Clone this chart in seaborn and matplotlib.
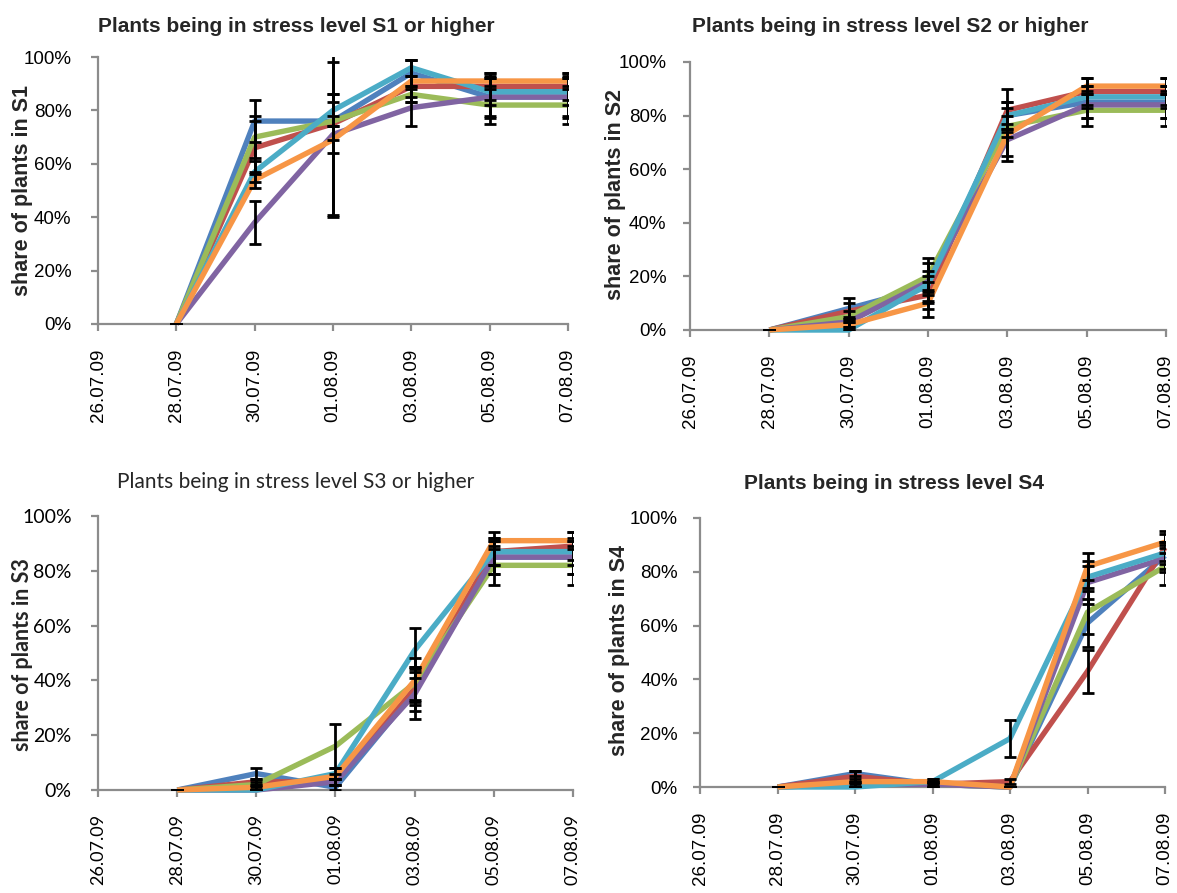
import matplotlib
matplotlib.use("Agg")
import numpy as np
import pandas as pd
import matplotlib.pyplot as plt
from matplotlib.ticker import PercentFormatter
import seaborn as sns

# ---------------- data ----------------
dates = ["28.07.09", "30.07.09", "01.08.09", "03.08.09", "05.08.09", "07.08.09"]
tick_labels = ["26.07.09", "28.07.09", "30.07.09", "01.08.09",
               "03.08.09", "05.08.09", "07.08.09"]
series_names = ["Series 1", "Series 2", "Series 3", "Series 4", "Series 5", "Series 6"]
colors = ["#4F81BD", "#C0504D", "#9BBB59", "#8064A2", "#4BACC6", "#F79646"]

titles = ["Plants being in stress level S1 or higher",
          "Plants being in stress level S2 or higher",
          "Plants being in stress level S3 or higher",
          "Plants being in stress level S4"]
ylabels = ["share of plants in S1", "share of plants in S2",
           "share of plants in S3", "share of plants in S4"]

# values in percent, one row per series
s1_values = [[0, 76, 76, 94, 85, 85],
             [0, 66, 75, 89, 89, 89],
             [0, 70, 76, 86, 82, 82],
             [0, 38, 71, 81, 85, 85],
             [0, 57, 80, 96, 87, 87],
             [0, 54, 69, 91, 91, 91]]
s1_errors = [[0, 8, 7, 5, 8, 8],
             [0, 10, 11, 4, 5, 5],
             [0, 8, 2, 3, 7, 7],
             [0, 8, 30, 7, 7, 7],
             [0, 4, 6, 3, 5, 5],
             [0, 3, 29, 8, 3, 3]]

s2_values = [[0, 8, 16, 80, 85, 85],
             [0, 7, 13, 82, 89, 89],
             [0, 5, 20, 76, 82, 82],
             [0, 3, 18, 71, 84, 84],
             [0, 0, 17, 80, 87, 87],
             [0, 2, 10, 73, 91, 91]]
s2_errors = [[0, 4, 6, 5, 6, 6],
             [0, 3, 5, 8, 5, 5],
             [0, 2, 7, 4, 6, 6],
             [0, 2, 7, 6, 5, 5],
             [0, 0, 3, 5, 4, 4],
             [0, 1, 5, 10, 3, 3]]

s3_values = [[0, 6, 1, 36, 85, 85],
             [0, 3, 3, 37, 87, 89],
             [0, 2, 16, 39, 82, 82],
             [0, 0, 3, 35, 85, 85],
             [0, 0, 6, 51, 87, 87],
             [0, 1, 5, 40, 91, 91]]
s3_errors = [[0, 2, 1, 5, 6, 6],
             [0, 1, 1, 8, 5, 5],
             [0, 1, 8, 6, 7, 7],
             [0, 0, 1, 9, 6, 6],
             [0, 0, 2, 8, 5, 5],
             [0, 1, 1, 8, 3, 3]]

s4_values = [[0, 5, 1, 0, 61, 86],
             [0, 4, 1, 2, 43, 89],
             [0, 1, 1, 0, 65, 82],
             [0, 1, 1, 0, 76, 85],
             [0, 0, 2, 18, 78, 87],
             [0, 2, 2, 0, 82, 91]]
s4_errors = [[0, 1, 1, 0, 9, 5],
             [0, 2, 1, 1, 8, 5],
             [0, 1, 1, 0, 8, 7],
             [0, 1, 1, 0, 8, 5],
             [0, 0, 1, 7, 4, 4],
             [0, 1, 1, 0, 5, 4]]

panel_values = [s1_values, s2_values, s3_values, s4_values]
panel_errors = [s1_errors, s2_errors, s3_errors, s4_errors]

# ---------------- style ----------------
sns.set_style("ticks")
plt.rcParams["font.family"] = ["Liberation Sans", "DejaVu Sans"]

W, H = 1177, 893
fig = plt.figure(figsize=(W / 100, H / 100), dpi=100)

def fx(x):
    return x / W

def fy(y):
    return 1 - y / H

# axes boxes in pixels: left, top, right, bottom
boxes = [(98, 57, 568, 324), (690, 62, 1166, 330),
         (98, 516, 573, 790), (700, 518, 1165, 787)]
title_pos = [(296, 27), (890, 27), (296, 482), (894, 483)]
ylabel_pos = [(23, 191), (615, 195), (23, 655), (620, 651)]
ypads = [14, 12, 14, 11]
xpads = [13, 13, 12, 13]
alt_font = ["Lato", "DejaVu Sans"]
main_font = ["Liberation Sans", "DejaVu Sans"]

date_x = pd.to_datetime(dates, format="%d.%m.%y")
tick_x = pd.to_datetime(tick_labels, format="%d.%m.%y")
axis_gray = "#8C8C8C"

for i in range(4):
    l, t, r, b = boxes[i]
    ax = fig.add_axes([fx(l), fy(b), (r - l) / W, (b - t) / H])
    fam = alt_font if i == 2 else main_font
    ytick_fs = 14 if i == 2 else 13.5
    xtick_fs = 13 if i == 2 else 13.5

    rows = []
    for name, vals, errs in zip(series_names, panel_values[i], panel_errors[i]):
        for d, v, e in zip(date_x, vals, errs):
            rows.append({"date": d, "series": name, "value": v, "err": e})
    df = pd.DataFrame(rows)

    sns.lineplot(data=df, x="date", y="value", hue="series",
                 hue_order=series_names, palette=colors, linewidth=3.9,
                 estimator=None, sort=False, legend=False, ax=ax)
    for ln in ax.lines:
        ln.set_clip_on(False)
        ln.set_solid_joinstyle("round")
        ln.set_solid_capstyle("butt")

    for name in series_names:
        sub = df[df["series"] == name]
        ax.errorbar(sub["date"], sub["value"], yerr=sub["err"], fmt="none",
                    ecolor="black", elinewidth=2.0, capsize=4, capthick=2.0,
                    zorder=5)

    ax.set_xlim(tick_x[0], tick_x[-1])
    ax.set_ylim(0, 100)
    ax.set_xticks(tick_x)
    ax.set_xticklabels(tick_labels, rotation=90, family=fam, fontsize=xtick_fs)
    ax.set_yticks([0, 20, 40, 60, 80, 100])
    ax.yaxis.set_major_formatter(PercentFormatter(xmax=100, decimals=0))
    for lab in ax.get_yticklabels():
        lab.set_family(fam)
        lab.set_fontsize(ytick_fs)
    ax.set_xlabel("")
    ax.set_ylabel("")
    sns.despine(ax=ax)
    for sp in ["left", "bottom"]:
        ax.spines[sp].set_color(axis_gray)
        ax.spines[sp].set_linewidth(1.6)
        ax.spines[sp].set_zorder(1)
    ax.tick_params(axis="both", direction="out", length=5, width=1.6,
                   color=axis_gray, labelcolor="black")
    ax.tick_params(axis="x", pad=xpads[i])
    ax.tick_params(axis="y", pad=ypads[i])

    tx, ty = title_pos[i]
    fig.text(fx(tx), fy(ty), titles[i], ha="center", va="center",
             fontsize=15, fontweight="bold" if i != 2 else "normal",
             family=fam)
    yx, yy = ylabel_pos[i]
    fig.text(fx(yx), fy(yy), ylabels[i], ha="center", va="center",
             rotation=90, fontsize=15.5, fontweight="bold", family=fam)

fig.savefig("out.png", dpi=100)
